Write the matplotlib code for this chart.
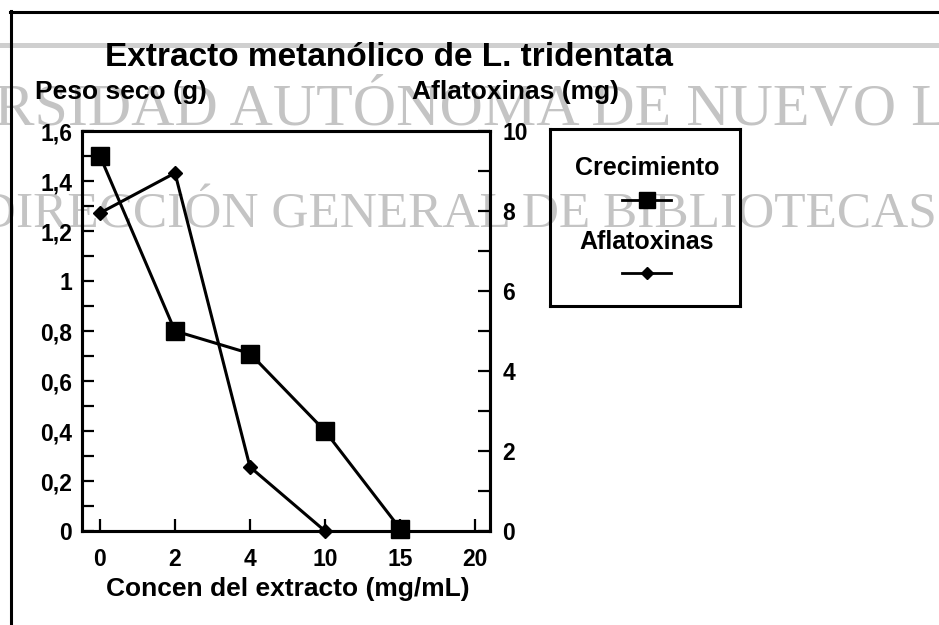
import matplotlib
matplotlib.use("Agg")
import matplotlib.pyplot as plt
from matplotlib.ticker import MultipleLocator, FixedLocator, FixedFormatter
from matplotlib.lines import Line2D

plt.rcParams['font.family'] = ['Liberation Sans', 'DejaVu Sans']

# ---- data ----
categories = ["0", "2", "4", "10", "15", "20"]
crecimiento = [1.5, 0.8, 0.71, 0.4, 0.01]          # Peso seco (g)
aflatoxinas = [7.95, 8.95, 1.6, 0.0]               # Aflatoxinas (mg)
left_ticks = [0, 0.2, 0.4, 0.6, 0.8, 1.0, 1.2, 1.4, 1.6]
left_labels = ["0", "0,2", "0,4", "0,6", "0,8", "1", "1,2", "1,4", "1,6"]
right_ticks = [0, 2, 4, 6, 8, 10]
right_labels = ["0", "2", "4", "6", "8", "10"]

W, H = 939, 625
fig = plt.figure(figsize=(W / 100, H / 100), dpi=100)
fig.patch.set_facecolor('white')

def fx(px):
    return px / W

def fy(py):
    return 1 - py / H

# ---- watermark (behind everything) ----
wm = '#c4c4c4'
fig.text(fx(-192), fy(125), "UNIVERSIDAD AUTÓNOMA DE NUEVO LEÓN", fontsize=43.2,
         family='Liberation Serif', color=wm, ha='left', va='baseline', zorder=-5)
fig.text(fx(937), fy(228), "DIRECCIÓN GENERAL DE BIBLIOTECAS", fontsize=37,
         family='Liberation Serif', color=wm, ha='right', va='baseline', zorder=-5)
fig.add_artist(Line2D([0, 1], [fy(44.5), fy(44.5)], transform=fig.transFigure,
                      color='#cfcfcf', lw=3.6, zorder=-5))

# ---- outer frame ----
fig.add_artist(Line2D([fx(10), 1.0], [fy(12), fy(12)], transform=fig.transFigure,
                      color='black', lw=2.2, zorder=1))
fig.add_artist(Line2D([fx(11), fx(11)], [fy(11), 0.0], transform=fig.transFigure,
                      color='black', lw=2.2, zorder=1))

# ---- main axes ----
L, R, T, B = 82, 490, 131, 531
ax = fig.add_axes([fx(L), fy(B), (R - L) / W, (B - T) / H])
ax.patch.set_alpha(0)
ax2 = ax.twinx()
ax2.patch.set_alpha(0)

x = list(range(len(categories)))
ax.plot(x[:len(crecimiento)], crecimiento, color='black', lw=2.2, marker='s',
        markersize=12.5, clip_on=False, zorder=3)
ax2.plot(x[:len(aflatoxinas)], aflatoxinas, color='black', lw=2.2, marker='D',
         markersize=7.5, clip_on=False, zorder=3)

ax.set_xlim(-0.24, 5.2)
ax.set_ylim(0, 1.6)
ax2.set_ylim(0, 10)

ax.xaxis.set_major_locator(FixedLocator(x))
ax.xaxis.set_major_formatter(FixedFormatter(categories))
ax.yaxis.set_major_locator(FixedLocator(left_ticks))
ax.yaxis.set_major_formatter(FixedFormatter(left_labels))
ax.yaxis.set_minor_locator(MultipleLocator(0.1))
ax2.yaxis.set_major_locator(FixedLocator(right_ticks))
ax2.yaxis.set_major_formatter(FixedFormatter(right_labels))
ax2.yaxis.set_minor_locator(MultipleLocator(1))

for a in (ax, ax2):
    for s in a.spines.values():
        s.set_linewidth(2.2)
ax.tick_params(axis='both', which='both', direction='in', length=8.5, width=1.6,
               top=False, right=False)
ax.tick_params(axis='y', pad=7)
ax.tick_params(axis='x', pad=12)
ax2.tick_params(axis='y', which='both', direction='in', length=8.5, width=1.6,
                pad=9, left=False, right=True)
for lab in ax.get_xticklabels() + ax.get_yticklabels() + ax2.get_yticklabels():
    lab.set_fontsize(16.5)
    lab.set_fontweight('bold')

# ---- labels ----
fig.text(fx(288), fy(577), "Concen del extracto (mg/mL)", fontsize=19,
         fontweight='bold', ha='center', va='top')
fig.text(fx(35), fy(99), "Peso seco (g)", fontsize=19, fontweight='bold',
         ha='left', va='baseline')
fig.text(fx(619), fy(99), "Aflatoxinas (mg)", fontsize=19, fontweight='bold',
         ha='right', va='baseline')
fig.text(fx(105), fy(66), "Extracto metanólico de L. tridentata", fontsize=24,
         fontweight='bold', ha='left', va='baseline')

# ---- legend (label above its handle) ----
LL, LR, LT, LB = 550, 740, 129, 306
lax = fig.add_axes([fx(LL), fy(LB), (LR - LL) / W, (LB - LT) / H])
lax.patch.set_alpha(0)
lax.set_xlim(LL, LR)
lax.set_ylim(LB, LT)
lax.set_xticks([])
lax.set_yticks([])
for s in lax.spines.values():
    s.set_linewidth(2.2)
legend_items = [("Crecimiento", 's', 11.5, 168, 200),
                ("Aflatoxinas", 'D', 6.5, 242, 273)]
for name, mk, ms, ty, hy in legend_items:
    lax.text(647, ty, name, fontsize=18, fontweight='bold', ha='center', va='center')
    lax.add_line(Line2D([622, 671], [hy, hy], color='black', lw=2.0))
    lax.add_line(Line2D([646.5], [hy], color='black', marker=mk, markersize=ms,
                        linestyle='none'))

fig.savefig("out.png", dpi=100, facecolor='white')
